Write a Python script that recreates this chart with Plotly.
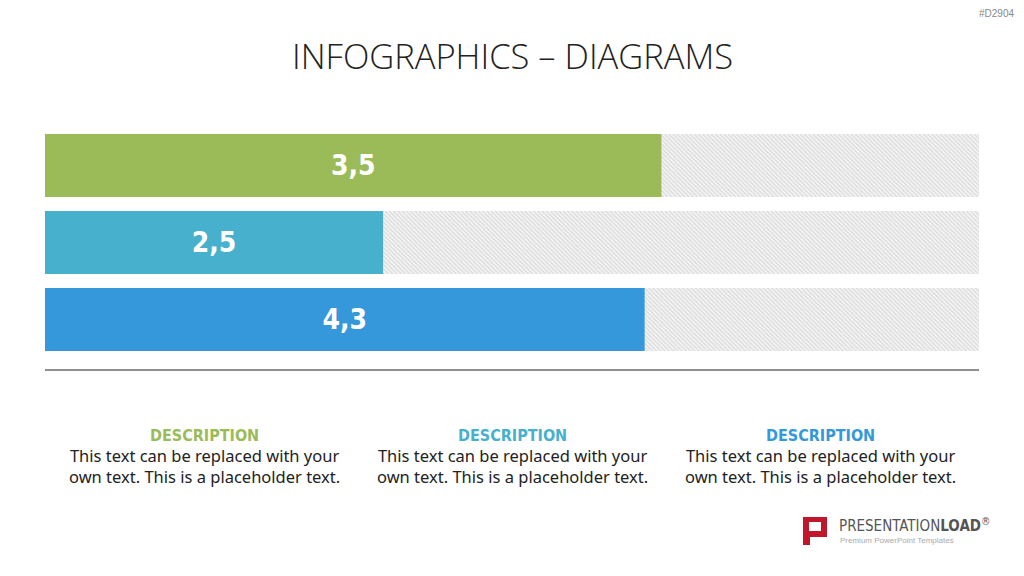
import plotly.graph_objects as go

# ---- data ----
categories = [0, 1, 2]
bar_lengths = [66.0, 36.2, 64.2]          # visual bar length, % of full track
bar_labels = ["3,5", "2,5", "4,3"]        # printed values
track = [100, 100, 100]
bar_colors = ["#9BBB59", "#47B0CD", "#3598DB"]
desc_titles = ["DESCRIPTION", "DESCRIPTION", "DESCRIPTION"]
desc_text = "This text can be replaced with your<br>own text. This is a placeholder text."
desc_x = [204, 512, 820]

W, H = 1024, 576
ML, MR, MT, MB = 45, 45, 134, 207
COND = "DejaVu Sans Condensed, DejaVu Sans, sans-serif"
fig = go.Figure()

# hatched background tracks
fig.add_trace(go.Bar(
    y=categories, x=track, orientation="h", width=0.818,
    marker=dict(color="white", line=dict(width=0),
                pattern=dict(shape="\\", fgcolor="#c0c0c0", bgcolor="#f5f5f5", size=3, solidity=0.45)),
    hoverinfo="skip", showlegend=False))

# value bars
fig.add_trace(go.Bar(
    y=categories, x=bar_lengths, orientation="h", width=0.818,
    marker=dict(color=bar_colors, line=dict(width=0)),
    text=bar_labels, textposition="inside", insidetextanchor="middle",
    textfont=dict(family=COND, size=28, color="white", weight="bold"),
    textangle=0, hoverinfo="skip", showlegend=False))

fig.update_layout(
    width=W, height=H, barmode="overlay",
    margin=dict(l=ML, r=MR, t=MT, b=MB),
    paper_bgcolor="white", plot_bgcolor="white",
    xaxis=dict(range=[0, 100], showgrid=False, zeroline=False, showticklabels=False,
               showline=True, linecolor="#8f8f8f", linewidth=1.5, fixedrange=True),
    yaxis=dict(range=[2.643, -0.409], showgrid=False, zeroline=False, showticklabels=False,
               showline=False, fixedrange=True),
    uniformtext=dict(minsize=10, mode="show"),
)


def px2paper(px_x, px_y):
    pw = W - ML - MR
    ph = H - MT - MB
    return (px_x - ML) / pw, (H - MB - px_y) / ph


def text_at(px_x, px_y, text, font, xanchor="center", align="center"):
    x, y = px2paper(px_x, px_y)
    fig.add_annotation(x=x, y=y, xref="paper", yref="paper", text=text, showarrow=False,
                       xanchor=xanchor, yanchor="middle", align=align, font=font)


# title
text_at(512, 56, "INFOGRAPHICS – DIAGRAMS",
        dict(family="Open Sans", size=34.5, color="#222222", weight=300))

# id tag top right
text_at(997, 13, "#D2904", dict(family="Liberation Sans", size=10, color="#888888"))

# descriptions
for i in range(3):
    text_at(desc_x[i], 435, desc_titles[i],
            dict(family=COND, size=16, color=bar_colors[i], weight="bold"))
    text_at(desc_x[i], 466, desc_text,
            dict(family="Noto Sans", size=16.5, color="#222222"))

# logo
lx0, ly0 = px2paper(803, 517)
lx1, ly1 = px2paper(827, 537)
fig.add_shape(type="rect", xref="paper", yref="paper", x0=lx0, y0=ly1, x1=lx1, y1=ly0,
              fillcolor="#C0182A", line=dict(width=0))
tx0, ty0 = px2paper(803, 537)
tx1, ty1 = px2paper(810, 545)
fig.add_shape(type="rect", xref="paper", yref="paper", x0=tx0, y0=ty1, x1=tx1, y1=ty0,
              fillcolor="#C0182A", line=dict(width=0))
ix0, iy0 = px2paper(809, 522)
ix1, iy1 = px2paper(821, 531)
fig.add_shape(type="rect", xref="paper", yref="paper", x0=ix0, y0=iy1, x1=ix1, y1=iy0,
              fillcolor="white", line=dict(width=0))
text_at(837, 525, "PRESENTATION<b>LOAD</b><sup>®</sup>",
        dict(family=COND, size=15, color="#555555"), xanchor="left")
text_at(838, 540, "Premium PowerPoint Templates",
        dict(family="Liberation Sans", size=8, color="#aaaaaa"), xanchor="left")

fig.write_html("out.html")
